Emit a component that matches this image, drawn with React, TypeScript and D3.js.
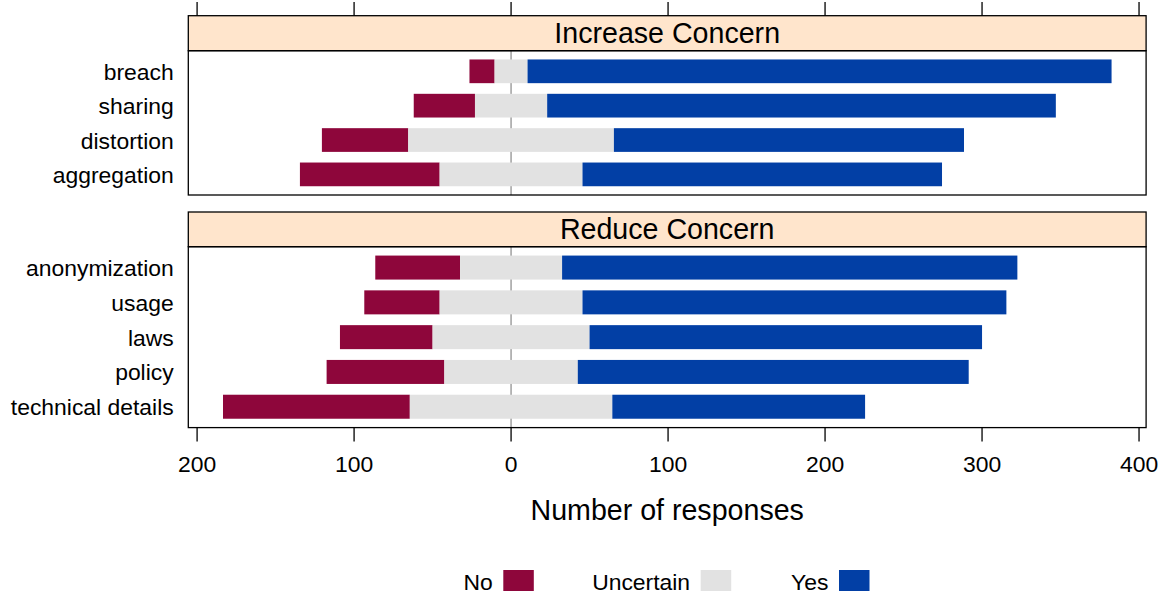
import React from "react";
import * as d3 from "d3";

const increaseCats = ["breach", "sharing", "distortion", "aggregation"];
const increaseNo = [16, 39, 55, 89];
const increaseUncertain = [21, 46, 131, 91];
const increaseYes = [372, 324, 223, 229];

const reduceCats = ["anonymization", "usage", "laws", "policy", "technical details"];
const reduceNo = [54, 48, 59, 75, 119];
const reduceUncertain = [65, 91, 100, 85, 129];
const reduceYes = [290, 270, 250, 249, 161];

const tickValues = [-200, -100, 0, 100, 200, 300, 400];
const legendLabels = ["No", "Uncertain", "Yes"];
const colors = ["#8E063B", "#E2E2E2", "#023FA5"];

const FONT = "'Liberation Sans', Arial, Helvetica, sans-serif";
const AX = 22.9;
const BIG = 28.6;

const W = 1162;
const H = 594;
const PL = 188.3;
const PR = 1146.1;

const x = d3.scaleLinear().domain([-205.6, 404.5]).range([PL, PR]);

type PanelProps = {
  title: string;
  cats: string[];
  no: number[];
  unc: number[];
  yes: number[];
  stripTop: number;
  stripBottom: number;
  panelBottom: number;
  topTicks?: boolean;
  bottomTicks?: boolean;
};

function Panel(p: PanelProps) {
  const y = d3
    .scalePoint<string>()
    .domain(p.cats)
    .range([p.stripBottom, p.panelBottom])
    .padding(0.6);
  const bh = y.step() * 0.69;
  const cx = (PL + PR) / 2;
  const stripMid = (p.stripTop + p.stripBottom) / 2;
  return (
    <g>
      <line x1={x(0)} x2={x(0)} y1={p.stripBottom} y2={p.panelBottom} stroke="#A0A0A0" strokeWidth={1.5} />
      {p.cats.map((c, i) => {
        const yc = y(c)!;
        const half = p.unc[i] / 2;
        const segs = [
          [-half - p.no[i], -half],
          [-half, half],
          [half, half + p.yes[i]],
        ];
        return (
          <g key={c}>
            {segs.map((s, j) => (
              <rect
                key={j}
                x={x(s[0])}
                width={x(s[1]) - x(s[0])}
                y={yc - bh / 2}
                height={bh}
                fill={colors[j]}
              />
            ))}
            <text
              x={173.7}
              y={yc + AX * 0.37}
              textAnchor="end"
              fontFamily={FONT}
              fontSize={AX}
              fill="#000"
            >
              {c}
            </text>
          </g>
        );
      })}
      <rect
        x={PL}
        y={p.stripTop}
        width={PR - PL}
        height={p.stripBottom - p.stripTop}
        fill="#FFE5CC"
        stroke="#000"
        strokeWidth={1.3}
      />
      <text x={cx} y={stripMid + BIG * 0.34} textAnchor="middle" fontFamily={FONT} fontSize={BIG} fill="#000">
        {p.title}
      </text>
      <rect
        x={PL}
        y={p.stripBottom}
        width={PR - PL}
        height={p.panelBottom - p.stripBottom}
        fill="none"
        stroke="#000"
        strokeWidth={1.3}
      />
      {p.topTicks &&
        tickValues.map((t) => (
          <line key={t} x1={x(t)} x2={x(t)} y1={p.stripTop} y2={p.stripTop - 13.7} stroke="#000" strokeWidth={1.3} />
        ))}
      {p.bottomTicks &&
        tickValues.map((t) => (
          <g key={t}>
            <line x1={x(t)} x2={x(t)} y1={p.panelBottom} y2={p.panelBottom + 14} stroke="#000" strokeWidth={1.3} />
            <text x={x(t)} y={471.7} textAnchor="middle" fontFamily={FONT} fontSize={AX} fill="#000">
              {Math.abs(t)}
            </text>
          </g>
        ))}
    </g>
  );
}

export default function App() {
  const legendRectX = [503.3, 700.7, 839];
  return (
    <svg
      width={W}
      height={H}
      viewBox={`0 0 ${W} ${H}`}
      style={{ position: "absolute", left: 0, top: 0, display: "block", background: "#fff" }}
    >
      <rect width={W} height={H} fill="#fff" />
      <Panel
        title="Increase Concern"
        cats={increaseCats}
        no={increaseNo}
        unc={increaseUncertain}
        yes={increaseYes}
        stripTop={15.7}
        stripBottom={50.7}
        panelBottom={195}
        topTicks
      />
      <Panel
        title="Reduce Concern"
        cats={reduceCats}
        no={reduceNo}
        unc={reduceUncertain}
        yes={reduceYes}
        stripTop={212}
        stripBottom={246.7}
        panelBottom={427.6}
        bottomTicks
      />
      <text x={667.2} y={520} textAnchor="middle" fontFamily={FONT} fontSize={BIG} fill="#000">
        Number of responses
      </text>
      {legendLabels.map((l, i) => (
        <g key={l}>
          <text
            x={legendRectX[i] - 10.6}
            y={589.7}
            textAnchor="end"
            fontFamily={FONT}
            fontSize={AX}
            fill="#000"
          >
            {l}
          </text>
          <rect x={legendRectX[i]} y={570} width={30.5} height={21} fill={colors[i]} />
        </g>
      ))}
    </svg>
  );
}
